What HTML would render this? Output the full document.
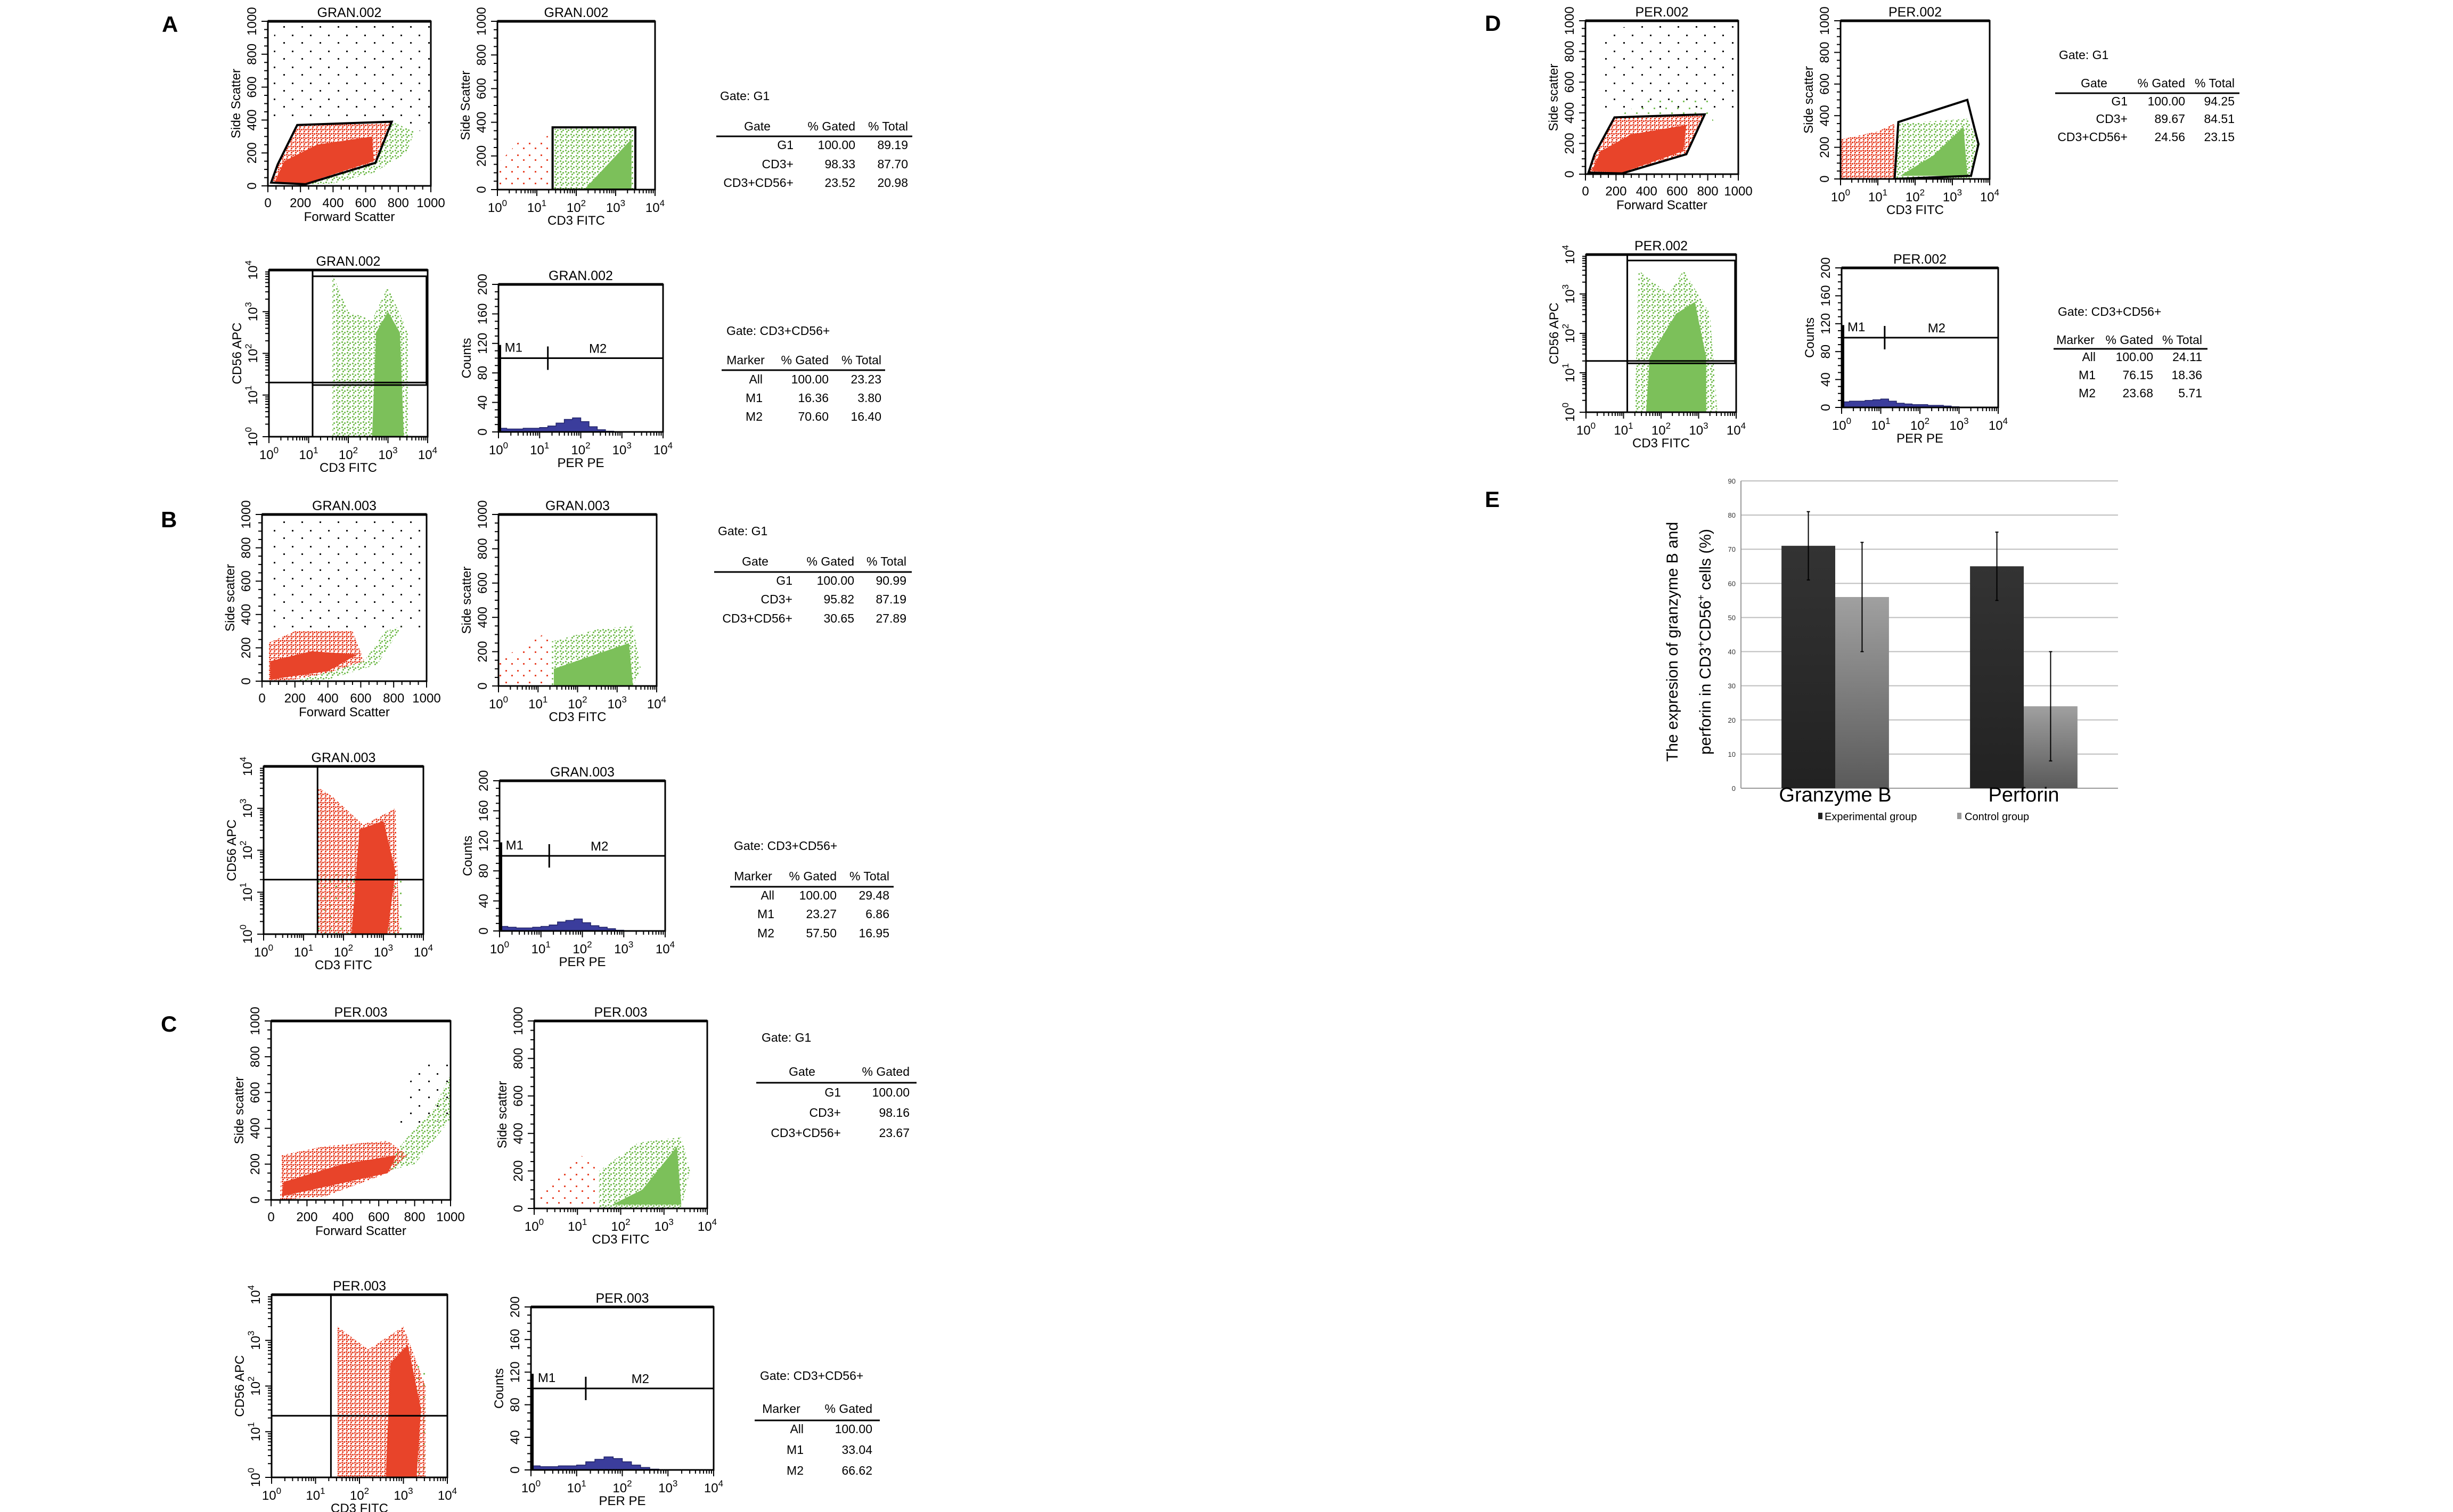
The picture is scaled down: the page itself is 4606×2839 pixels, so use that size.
<!DOCTYPE html>
<html><head><meta charset="utf-8">
<style>
html,body{margin:0;padding:0;background:#fff;}
svg{display:block;}
text{font-family:"Liberation Sans",sans-serif;}
</style></head>
<body>
<svg id="fig" xmlns="http://www.w3.org/2000/svg" width="4606" height="2839" viewBox="0 0 4606 2839">
<defs>
<pattern id="p-red" width="8" height="8" patternUnits="userSpaceOnUse"><rect x="1" y="1" width="3" height="3" fill="#e8442a"/><rect x="5" y="2" width="3" height="3" fill="#e8442a"/><rect x="2" y="5" width="3" height="3" fill="#e8442a"/></pattern>
<pattern id="p-green" width="10" height="10" patternUnits="userSpaceOnUse"><rect x="1" y="1" width="3" height="3" fill="#7cc05a"/><rect x="6" y="3" width="3" height="3" fill="#7cc05a"/><rect x="3" y="6" width="3" height="3" fill="#7cc05a"/></pattern>
<pattern id="p-black" width="34" height="30" patternUnits="userSpaceOnUse"><rect x="4" y="5" width="3" height="3" fill="#111"/><rect x="22" y="19" width="3" height="3" fill="#111"/></pattern>
<pattern id="p-green-s" width="22" height="22" patternUnits="userSpaceOnUse"><rect x="3" y="4" width="3" height="3" fill="#7cc05a"/><rect x="14" y="13" width="3" height="3" fill="#7cc05a"/></pattern>
<pattern id="p-red-s" width="22" height="22" patternUnits="userSpaceOnUse"><rect x="3" y="4" width="3" height="3" fill="#e8442a"/><rect x="14" y="13" width="3" height="3" fill="#e8442a"/></pattern>
<linearGradient id="g-ctrl" x1="0" y1="0" x2="0" y2="1"><stop offset="0" stop-color="#a0a0a0"/><stop offset="1" stop-color="#5a5a5a"/></linearGradient>
<linearGradient id="g-exp" x1="0" y1="0" x2="0" y2="1"><stop offset="0" stop-color="#333"/><stop offset="1" stop-color="#222"/></linearGradient>
</defs>
</svg>
<script>
// ---------- flow cytometry cloud/hist data (data units) ----------
const A1_black=[[30,420],[40,1000],[1000,1000],[1000,300],[800,400]];
const A1_red=[[20,20],[60,130],[180,370],[760,390],[660,140],[230,10]];
const A1_redCore=[[40,20],[100,150],[300,250],[640,300],[650,150],[230,15]];
const A1_green=[[250,10],[660,140],[760,390],[900,330],[850,200],[650,80],[400,15]];
const A1_gate=[[20,20],[60,130],[180,370],[760,390],[660,140],[230,10]];
const A2_red=[[0,0],[0,150],[0.6,300],[1.35,320],[1.35,0]];
const A2_green=[[1.4,0],[1.4,360],[3.5,370],[3.5,0]];
const A2_greenCore=[[2.2,0],[2.8,150],[3.4,300],[3.4,0]];
const A2_gate=[[1.4,0],[1.4,370],[3.5,370],[3.5,0]];
const A3_green=[[1.6,0],[1.6,3.9],[2.0,3.0],[2.6,2.8],[3.0,3.6],[3.5,2.5],[3.5,0]];
const A3_greenCore=[[2.6,0],[2.7,2.5],[3.0,3.0],[3.3,2.5],[3.4,0]];
const A4_counts=[5,4,4,5,5,6,8,12,17,19,14,7,3,1,0,0,0,0,0,0];
const B1_black=[[40,300],[40,1000],[1000,1000],[1000,300]];
const B1_red=[[40,0],[40,230],[200,300],[550,300],[620,120],[400,50],[200,10]];
const B1_redCore=[[50,10],[50,120],[300,180],[580,160],[400,60]];
const B1_green=[[200,0],[620,120],[750,300],[850,330],[700,100],[400,10]];
const B2_red=[[0,0],[0,150],[1.35,330],[1.35,0]];
const B2_green=[[1.35,0],[1.35,260],[2.5,330],[3.4,350],[3.6,100],[3.4,0]];
const B2_greenCore=[[1.4,0],[1.4,100],[3.3,250],[3.4,0]];
const B3_greenS=[[1.35,0],[1.35,1.5],[3.5,1.5],[3.5,0]];
const B3_red=[[1.35,0],[1.35,3.5],[1.7,3.3],[2.5,2.6],[3.3,3.0],[3.4,0]];
const B3_redCore=[[2.2,0],[2.4,2.5],[3.0,2.7],[3.3,1.5],[3.1,0]];
const B4_counts=[6,5,4,4,5,6,8,12,14,16,11,7,5,3,1,0,0,0,0,0];
const C1_black=[[700,400],[800,750],[1000,800],[1000,450]];
const C1_red=[[50,0],[60,250],[300,300],[650,330],[760,250],[650,150],[300,20]];
const C1_redCore=[[60,20],[70,100],[400,200],[700,250],[650,150]];
const C1_green=[[600,150],[760,350],[900,500],[1000,700],[1000,450],[800,200]];
const C2_red=[[0,0],[0.2,100],[1.0,300],[1.5,200],[1.5,0]];
const C2_green=[[1.5,0],[1.5,200],[2.4,350],[3.4,380],[3.6,200],[3.4,0]];
const C2_greenCore=[[1.8,20],[2.5,100],[3.3,330],[3.4,20]];
const C3_greenS=[[3.2,0],[3.2,2.5],[3.5,2.5],[3.5,0]];
const C3_red=[[1.5,0],[1.5,3.3],[2.2,2.8],[3.0,3.3],[3.5,2.0],[3.5,0]];
const C3_redCore=[[2.6,0],[2.7,2.5],[3.1,2.9],[3.4,1.5],[3.3,0]];
const C4_counts=[5,4,4,5,5,6,10,13,16,14,10,6,3,1,0,0,0,0,0,0];
const D1_black=[[100,400],[100,950],[1000,1000],[1000,400]];
const D1_green=[[200,370],[780,390],[850,300],[800,480],[400,480]];
const D1_red=[[20,10],[60,130],[190,370],[780,390],[660,130],[240,5]];
const D1_redCore=[[40,20],[100,150],[300,260],[660,320],[640,150],[240,10]];
const D1_gate=[[20,10],[60,130],[190,370],[780,390],[660,130],[240,5]];
const D2_red=[[0,0],[0,250],[1.0,300],[1.45,350],[1.45,0]];
const D2_green=[[1.45,0],[1.55,350],[3.4,380],[3.7,230],[3.5,0]];
const D2_greenCore=[[1.6,20],[2.5,150],[3.3,330],[3.4,20]];
const D2_gate=[[1.45,0],[1.55,360],[3.4,500],[3.7,220],[3.5,20]];
const D3_green=[[1.3,0],[1.4,3.6],[2.2,3.0],[2.6,3.6],[3.3,2.5],[3.5,0]];
const D3_greenCore=[[1.6,0],[1.7,1.4],[2.4,2.5],[2.9,2.8],[3.2,1.4],[3.2,0]];
const D4_counts=[8,9,9,10,11,12,9,6,5,4,4,3,3,2,1,0,0,0,0,0];

// ---------- tables ----------
const tA1=[["G1","100.00","89.19"],["CD3+","98.33","87.70"],["CD3+CD56+","23.52","20.98"]];
const tA2=[["All","100.00","23.23"],["M1","16.36","3.80"],["M2","70.60","16.40"]];
const tB1=[["G1","100.00","90.99"],["CD3+","95.82","87.19"],["CD3+CD56+","30.65","27.89"]];
const tB2=[["All","100.00","29.48"],["M1","23.27","6.86"],["M2","57.50","16.95"]];
const tC1=[["G1","100.00"],["CD3+","98.16"],["CD3+CD56+","23.67"]];
const tC2=[["All","100.00"],["M1","33.04"],["M2","66.62"]];
const tD1=[["G1","100.00","94.25"],["CD3+","89.67","84.51"],["CD3+CD56+","24.56","23.15"]];
const tD2=[["All","100.00","24.11"],["M1","76.15","18.36"],["M2","23.68","5.71"]];

// ---------- bar chart E data ----------
const eGroups=["Granzyme B","Perforin"];
const eExp=[71,65];
const eCtrl=[56,24];
const eExpLo=[61,55];
const eExpHi=[81,75];
const eCtrlLo=[40,8];
const eCtrlHi=[72,40];
const eTicks=[0,10,20,30,40,50,60,70,80,90];

const NS="http://www.w3.org/2000/svg";
const svg=document.getElementById('fig');
function el(tag,attrs,parent,txt){const e=document.createElementNS(NS,tag);for(const k in attrs)e.setAttribute(k,attrs[k]);if(txt!==undefined)e.textContent=txt;(parent||svg).appendChild(e);return e;}
function scale(min,max,a,b){return v=>a+(v-min)/(max-min)*(b-a);}
let clipN=0;

function logLabel(g,x,y,exp,rot){
  const t=el('text',{x:x,y:y,'font-size':24,'text-anchor':'middle',transform:rot?`rotate(-90 ${x} ${y})`:''},g);
  
  
  t.appendChild(document.createTextNode('10'));
  el('tspan',{dy:-11,'font-size':17},t,String(exp));
}

function panel(cfg){
  const g=el('g',{});
  
  
  const [x0,y0,x1,y1]=cfg.box;
  const sx=cfg.xt==='lin'?scale(0,1000,x0,x1):scale(0,4,x0,x1);
  const ymax=cfg.yt==='hist'?200:(cfg.yt==='lin'?1000:4);
  const sy=scale(0,ymax,y1,y0);
  const id='clip'+(clipN++);
  const cp=el('clipPath',{id:id},g);el('rect',{x:x0,y:y0,width:x1-x0,height:y1-y0},cp);
  const cg=el('g',{'clip-path':`url(#${id})`},g);
  const P=pts=>pts.map(p=>sx(p[0]).toFixed(1)+','+sy(p[1]).toFixed(1)).join(' ');
  (cfg.clouds||[]).forEach(c=>{
    const pg=el('polygon',{points:P(c[0]),fill:c[1]},cg);
    
    
  });
  if(cfg.counts){
    const n=cfg.counts.length;let d=`M${sx(0)},${sy(0)}`;
    cfg.counts.forEach((v,i)=>{d+=` L${sx(i*4/n)},${sy(v)} L${sx((i+1)*4/n)},${sy(v)}`;});
    d+=` L${sx(4)},${sy(0)} Z`;
    const h=el('path',{d:d,fill:'#3b3d9c',stroke:'#22246a','stroke-width':1.5},cg);
    
    
    const my=sy(cfg.marker[0]);
    const ml=el('line',{x1:sx(0),y1:my,x2:sx(4),y2:my,stroke:'#000','stroke-width':3},cg);
    
    
    const mt=el('line',{x1:sx(cfg.marker[1]),y1:my-22,x2:sx(cfg.marker[1]),y2:my+22,stroke:'#000','stroke-width':3},cg);
    
    
    const m1=el('text',{x:sx(0.15),y:my-12,'font-size':24},cg,'M1');
    
    
    const m2=el('text',{x:sx(2.2),y:my-10,'font-size':24},cg,'M2');
    
    
    el('line',{x1:x0+3,y1:y1,x2:x0+3,y2:sy(118),stroke:'#000','stroke-width':4},cg);
  }
  if(cfg.gate){
    const gp=el('polygon',{points:P(cfg.gate),fill:'none',stroke:'#000','stroke-width':4},cg);
    
    
  }
  if(cfg.quad){
    const [qx,qy]=cfg.quad;
    const q1=el('line',{x1:sx(qx),y1:y0,x2:sx(qx),y2:y1,stroke:'#000','stroke-width':3},cg);
    
    
    const q2=el('line',{x1:x0,y1:sy(qy),x2:x1,y2:sy(qy),stroke:'#000','stroke-width':3},cg);
    
    
    if(cfg.dbl){
      el('rect',{x:sx(qx),y:sy(3.85),width:sx(3.97)-sx(qx),height:sy(qy-0.06)-sy(3.85),fill:'none',stroke:'#000','stroke-width':3},cg);
    }
  }
  const fr=el('rect',{x:x0,y:y0,width:x1-x0,height:y1-y0,fill:'none',stroke:'#000','stroke-width':3},g);
  
  
  el('line',{x1:x0,y1:y0,x2:x1,y2:y0,stroke:'#000','stroke-width':5},g);
  const tt=el('text',{x:(x0+x1)/2,y:y0-8,'font-size':25,'text-anchor':'middle'},g,cfg.title);
  
  
  if(cfg.xt==='lin'){
    for(let v=0;v<=1000;v+=50){el('line',{x1:sx(v),y1:y1,x2:sx(v),y2:y1+(v%200===0?12:7),stroke:'#000','stroke-width':2},g);}
    for(let v=0;v<=1000;v+=200){const t=el('text',{x:sx(v),y:y1+40,'font-size':24,'text-anchor':'middle'},g,String(v));}
  } else {
    for(let d=0;d<4;d++)for(let k=1;k<10;k++){const v=d+Math.log10(k);el('line',{x1:sx(v),y1:y1,x2:sx(v),y2:y1+(k===1?12:7),stroke:'#000','stroke-width':2},g);}
    el('line',{x1:sx(4),y1:y1,x2:sx(4),y2:y1+12,stroke:'#000','stroke-width':2},g);
    for(let d=0;d<=4;d++)logLabel(g,sx(d),y1+42,d,false);
  }
  const xl=el('text',{x:(x0+x1)/2,y:y1+66,'font-size':24,'text-anchor':'middle'},g,cfg.xl);
  
  
  if(cfg.yt==='log'){
    for(let d=0;d<4;d++)for(let k=1;k<10;k++){const v=d+Math.log10(k);el('line',{x1:x0,y1:sy(v),x2:x0-(k===1?12:7),y2:sy(v),stroke:'#000','stroke-width':2},g);}
    for(let d=0;d<=4;d++)logLabel(g,x0-22,sy(d),d,true);
  } else {
    const step=cfg.yt==='hist'?40:200;
    for(let v=0;v<=ymax;v+=step/4){el('line',{x1:x0,y1:sy(v),x2:x0-(v%step===0?12:7),y2:sy(v),stroke:'#000','stroke-width':2},g);}
    for(let v=0;v<=ymax;v+=step){const X=x0-22,Y=sy(v);const t=el('text',{x:X,y:Y,'font-size':24,'text-anchor':'middle',transform:`rotate(-90 ${X} ${Y})`},g,String(v));}
  }
  const X=x0-52,Y=(y0+y1)/2;
  const yl=el('text',{x:X,y:Y,'font-size':24,'text-anchor':'middle',transform:`rotate(-90 ${X} ${Y})`},g,cfg.yl);
  
  
}

function table(t){
  const g=el('g',{});
  
  
  const tl=el('text',{x:t.lx,y:t.ty,'font-size':23},g,t.title);
  
  
  t.heads.forEach((h,i)=>{const e=el('text',{x:t.hx[i],y:t.hy,'font-size':23,'text-anchor':i===0?'middle':'end'},g,h);});
  el('line',{x1:t.line[0],y1:t.line[2],x2:t.line[1],y2:t.line[2],stroke:'#000','stroke-width':3},g);
  t.rows.forEach((r,ri)=>r.forEach((c,ci)=>{const e=el('text',{x:t.cx[ci],y:t.ry[ri],'font-size':23,'text-anchor':'end'},g,c);}));
}

function letter(ch,x,y){const t=el('text',{x:x,y:y,'font-size':42,'font-weight':'bold','font-family':'Liberation Serif, serif'},svg,ch);}

const R='url(#p-red)',G='url(#p-green)',K='url(#p-black)',RD='#e8442a',GD='#7cc05a',GS='url(#p-green-s)',RS='url(#p-red-s)';
letter('A',304,60);
panel({name:'a-fsc-ssc',box:[503,40,809,349],xt:'lin',yt:'lin',title:'GRAN.002',xl:'Forward Scatter',yl:'Side Scatter',clouds:[[A1_black,K,'debris-dots'],[A1_green,G,'green-population'],[A1_red,R,'red-population'],[A1_redCore,RD,'red-core']],gate:A1_gate});
panel({name:'a-cd3-ssc',box:[934,40,1230,356],xt:'log',yt:'lin',title:'GRAN.002',xl:'CD3 FITC',yl:'Side Scatter',clouds:[[A2_red,RS,'red-population'],[A2_green,G,'green-population'],[A2_greenCore,GD,'green-core']],gate:A2_gate});
panel({name:'a-cd3-cd56',box:[505,507,803,820],xt:'log',yt:'log',title:'GRAN.002',xl:'CD3 FITC',yl:'CD56 APC',clouds:[[A3_green,G,'green-population'],[A3_greenCore,GD,'green-core']],quad:[1.1,1.3],dbl:true});
panel({name:'a-per-hist',box:[936,534,1245,811],xt:'log',yt:'hist',title:'GRAN.002',xl:'PER PE',yl:'Counts',counts:A4_counts,marker:[100,1.2]});
table({name:'a-gate-table',title:'Gate: G1',lx:1352,ty:188,heads:['Gate','% Gated','% Total'],hx:[1422,1606,1705],hy:245,line:[1345,1713,256],rows:tA1,cx:[1490,1606,1705],ry:[280,316,351]});
table({name:'a-marker-table',title:'Gate: CD3+CD56+',lx:1364,ty:629,heads:['Marker','% Gated','% Total'],hx:[1400,1556,1655],hy:684,line:[1355,1662,695],rows:tA2,cx:[1432,1556,1655],ry:[720,755,790]});
letter('B',302,990);
panel({name:'b-fsc-ssc',box:[492,966,801,1279],xt:'lin',yt:'lin',title:'GRAN.003',xl:'Forward Scatter',yl:'Side scatter',clouds:[[B1_black,K,'debris-dots'],[B1_green,G,'green-population'],[B1_red,R,'red-population'],[B1_redCore,RD,'red-core']]});
panel({name:'b-cd3-ssc',box:[936,966,1233,1288],xt:'log',yt:'lin',title:'GRAN.003',xl:'CD3 FITC',yl:'Side scatter',clouds:[[B2_red,RS,'red-population'],[B2_green,G,'green-population'],[B2_greenCore,GD,'green-core']]});
panel({name:'b-cd3-cd56',box:[495,1439,795,1754],xt:'log',yt:'log',title:'GRAN.003',xl:'CD3 FITC',yl:'CD56 APC',clouds:[[B3_greenS,GS,'green-population'],[B3_red,R,'red-population'],[B3_redCore,RD,'red-core']],quad:[1.35,1.3]});
panel({name:'b-per-hist',box:[938,1466,1249,1748],xt:'log',yt:'hist',title:'GRAN.003',xl:'PER PE',yl:'Counts',counts:B4_counts,marker:[100,1.2]});
table({name:'b-gate-table',title:'Gate: G1',lx:1348,ty:1005,heads:['Gate','% Gated','% Total'],hx:[1418,1604,1702],hy:1062,line:[1341,1712,1074],rows:tB1,cx:[1488,1604,1702],ry:[1098,1133,1169]});
table({name:'b-marker-table',title:'Gate: CD3+CD56+',lx:1378,ty:1596,heads:['Marker','% Gated','% Total'],hx:[1414,1571,1670],hy:1653,line:[1371,1678,1665],rows:tB2,cx:[1454,1571,1670],ry:[1689,1724,1760]});
letter('C',302,1937);
panel({name:'c-fsc-ssc',box:[509,1917,846,2253],xt:'lin',yt:'lin',title:'PER.003',xl:'Forward Scatter',yl:'Side scatter',clouds:[[C1_black,K,'debris-dots'],[C1_green,G,'green-population'],[C1_red,R,'red-population'],[C1_redCore,RD,'red-core']]});
panel({name:'c-cd3-ssc',box:[1003,1917,1328,2269],xt:'log',yt:'lin',title:'PER.003',xl:'CD3 FITC',yl:'Side scatter',clouds:[[C2_red,RS,'red-population'],[C2_green,G,'green-population'],[C2_greenCore,GD,'green-core']]});
panel({name:'c-cd3-cd56',box:[510,2431,840,2774],xt:'log',yt:'log',title:'PER.003',xl:'CD3 FITC',yl:'CD56 APC',clouds:[[C3_greenS,GS,'green-population'],[C3_red,R,'red-population'],[C3_redCore,RD,'red-core']],quad:[1.35,1.35]});
panel({name:'c-per-hist',box:[997,2454,1340,2760],xt:'log',yt:'hist',title:'PER.003',xl:'PER PE',yl:'Counts',counts:C4_counts,marker:[100,1.2]});
table({name:'c-gate-table',title:'Gate: G1',lx:1430,ty:1956,heads:['Gate','% Gated'],hx:[1506,1708],hy:2020,line:[1420,1721,2033],rows:tC1,cx:[1579,1708],ry:[2059,2097,2135]});
table({name:'c-marker-table',title:'Gate: CD3+CD56+',lx:1427,ty:2591,heads:['Marker','% Gated'],hx:[1467,1638],hy:2653,line:[1417,1652,2667],rows:tC2,cx:[1509,1638],ry:[2691,2730,2769]});
letter('D',2788,58);
panel({name:'d-fsc-ssc',box:[2977,39,3264,327],xt:'lin',yt:'lin',title:'PER.002',xl:'Forward Scatter',yl:'Side scatter',clouds:[[D1_black,K,'debris-dots'],[D1_green,GS,'green-population'],[D1_red,R,'red-population'],[D1_redCore,RD,'red-core']],gate:D1_gate});
panel({name:'d-cd3-ssc',box:[3456,39,3736,336],xt:'log',yt:'lin',title:'PER.002',xl:'CD3 FITC',yl:'Side scatter',clouds:[[D2_red,R,'red-population'],[D2_green,G,'green-population'],[D2_greenCore,GD,'green-core']],gate:D2_gate});
panel({name:'d-cd3-cd56',box:[2978,478,3260,774],xt:'log',yt:'log',title:'PER.002',xl:'CD3 FITC',yl:'CD56 APC',clouds:[[D3_green,G,'green-population'],[D3_greenCore,GD,'green-core']],quad:[1.1,1.3],dbl:true});
panel({name:'d-per-hist',box:[3458,503,3752,765],xt:'log',yt:'hist',title:'PER.002',xl:'PER PE',yl:'Counts',counts:D4_counts,marker:[100,1.1]});
table({name:'d-gate-table',title:'Gate: G1',lx:3866,ty:111,heads:['Gate','% Gated','% Total'],hx:[3932,4103,4196],hy:164,line:[3859,4205,175],rows:tD1,cx:[3995,4103,4196],ry:[198,231,265]});
table({name:'d-marker-table',title:'Gate: CD3+CD56+',lx:3864,ty:593,heads:['Marker','% Gated','% Total'],hx:[3897,4043,4135],hy:646,line:[3856,4145,655],rows:tD2,cx:[3935,4043,4135],ry:[678,712,746]});

letter('E',2788,952);
(function(){
  const g=el('g',{});
  
  
  const X0=3269,X1=3977,Y0=903,Y1=1480;
  const sy=scale(0,90,Y1,Y0);
  const band=(X1-X0)/eGroups.length;
  const bw=band*0.285;
  eTicks.forEach(v=>{
    const l=el('line',{x1:X0,y1:sy(v),x2:X1,y2:sy(v),stroke:v===0?'#999':'#bdbdbd','stroke-width':2},g);
    
    
    const t=el('text',{x:X0-10,y:sy(v)+5,'font-size':13,'text-anchor':'end',fill:'#333'},g,String(v));
    
    
  });
  el('line',{x1:X0,y1:Y0,x2:X0,y2:Y1,stroke:'#999','stroke-width':2},g);
  eGroups.forEach((name,i)=>{
    const c=X0+band*(i+0.5);
    const b1=el('rect',{x:c-bw,y:sy(eExp[i]),width:bw,height:sy(0)-sy(eExp[i]),fill:'url(#g-exp)'},g);
    
    
    const b2=el('rect',{x:c,y:sy(eCtrl[i]),width:bw,height:sy(0)-sy(eCtrl[i]),fill:'url(#g-ctrl)'},g);
    
    
    [[c-bw/2,eExpLo[i],eExpHi[i]],[c+bw/2,eCtrlLo[i],eCtrlHi[i]]].forEach(e=>{
      const l=el('line',{x1:e[0],y1:sy(e[1]),x2:e[0],y2:sy(e[2]),stroke:'#000','stroke-width':2},g);
      
      
      el('line',{x1:e[0]-3,y1:sy(e[1]),x2:e[0]+3,y2:sy(e[1]),stroke:'#000','stroke-width':2},g);
      el('line',{x1:e[0]-3,y1:sy(e[2]),x2:e[0]+3,y2:sy(e[2]),stroke:'#000','stroke-width':2},g);
    });
    const t=el('text',{x:c,y:Y1+25,'font-size':38,'text-anchor':'middle','font-family':'Liberation Serif, serif'},g,name);
    
    
  });
  const lg=el('g',{},g);
  
  
  el('rect',{x:3414,y:1526,width:8,height:12,fill:'#222'},lg);
  const l1=el('text',{x:3426,y:1540,'font-size':20},lg,'Experimental group');
  
  
  el('rect',{x:3675,y:1526,width:8,height:12,fill:'#999'},lg);
  const l2=el('text',{x:3689,y:1540,'font-size':20},lg,'Control group');
  
  
  const yt=el('text',{'font-size':30,'text-anchor':'middle',transform:'translate(3150 1205) rotate(-90)'},g,'The expresion of granzyme B and');
  
  
  const yt2=el('text',{'font-size':30,'text-anchor':'middle',transform:'translate(3212 1205) rotate(-90)'},g);
  
  
  yt2.appendChild(document.createTextNode('perforin in CD3'));
  el('tspan',{dy:-12,'font-size':19},yt2,'+');
  el('tspan',{dy:12},yt2,'CD56');
  el('tspan',{dy:-12,'font-size':19},yt2,'+');
  el('tspan',{dy:12},yt2,' cells (%)');
})();
</script>
</body></html>
